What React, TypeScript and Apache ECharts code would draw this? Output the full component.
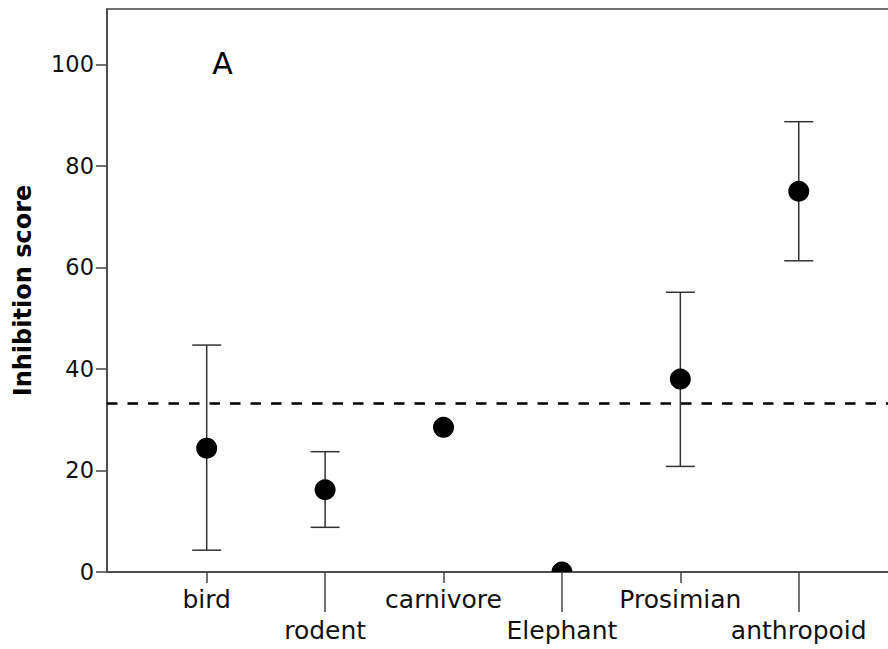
import React, { useEffect, useRef } from "react";
import * as echarts from "echarts";

const categories = ["bird", "rodent", "carnivore", "Elephant", "Prosimian", "anthropoid"];
const means = [24.4, 16.2, 28.5, 0, 38.0, 75.0];
const lower: (number | null)[] = [4.3, 8.8, null, null, 20.8, 61.3];
const upper: (number | null)[] = [44.7, 23.7, null, null, 55.1, 88.7];
const chanceLevel = 33.3;
const yTicks = [0, 20, 40, 60, 80, 100];
const panelLabel = "A";

const FONT = "DejaVu Sans";
const AXIS_COLOR = "#444";

export default function App() {
  const ref = useRef<HTMLDivElement>(null);
  useEffect(() => {
    document.body.style.margin = "0";
    if (!ref.current) return;
    const chart = echarts.init(ref.current, null, { renderer: "svg" });
    const positions = categories.map((_, i) => i + 1);
    const data = categories.map((c, i) => [positions[i], means[i], lower[i] ?? NaN, upper[i] ?? NaN]);
    const oddPos = positions.filter((_, i) => i % 2 === 0);
    const evenPos = positions.filter((_, i) => i % 2 === 1);
    const labelFmt = (v: number) => categories[Math.round(v) - 1] ?? "";
    const baseX = {
      type: "value",
      min: 0.158,
      max: 6.796,
      position: "bottom",
      splitLine: { show: false },
    };
    const option: any = {
      animation: false,
      backgroundColor: "#fff",
      textStyle: { fontFamily: FONT },
      grid: {
        left: 107,
        right: -5,
        top: 9,
        bottom: 77,
        show: true,
        borderColor: AXIS_COLOR,
        borderWidth: 1.5,
        containLabel: false,
        outerBoundsMode: "none",
      },
      graphic: [
        {
          type: "text",
          x: 222.5,
          y: 63,
          style: {
            text: panelLabel,
            fontFamily: FONT,
            fontSize: 30,
            fill: "#000",
            align: "center",
            verticalAlign: "middle",
          },
        },
      ],
      xAxis: [
        {
          ...baseX,
          axisLine: { show: true, lineStyle: { color: AXIS_COLOR, width: 1.5 } },
          axisTick: { show: true, customValues: oddPos, length: 11, lineStyle: { color: AXIS_COLOR, width: 1.5 } },
          axisLabel: {
            customValues: oddPos,
            formatter: labelFmt,
            margin: 15,
            fontSize: 25,
            color: "#111",
            fontFamily: FONT,
          },
        },
        {
          ...baseX,
          axisLine: { show: false },
          axisTick: { show: true, customValues: evenPos, length: 40, lineStyle: { color: AXIS_COLOR, width: 1.5 } },
          axisLabel: {
            customValues: evenPos,
            formatter: labelFmt,
            margin: 46,
            fontSize: 25,
            color: "#111",
            fontFamily: FONT,
          },
        },
      ],
      yAxis: {
        type: "value",
        min: 0,
        max: 110.9,
        interval: 20,
        name: "Inhibition score",
        nameLocation: "middle",
        nameGap: 72,
        nameTextStyle: { fontSize: 24, fontWeight: "bold", color: "#000", fontFamily: FONT },
        axisLine: { show: true, lineStyle: { color: AXIS_COLOR, width: 1.5 } },
        axisTick: { show: true, length: 11, customValues: yTicks, lineStyle: { color: AXIS_COLOR, width: 1.5 } },
        axisLabel: { customValues: yTicks, margin: 13, fontSize: 22.5, color: "#111", fontFamily: FONT },
        splitLine: { show: false },
      },
      series: [
        {
          type: "custom",
          xAxisIndex: 0,
          clip: true,
          data,
          encode: { x: 0, y: 1 },
          renderItem: (params: any, api: any) => {
            const x = api.value(0);
            const m = api.value(1);
            const lo = api.value(2);
            const hi = api.value(3);
            const c = api.coord([x, m]);
            const children: any[] = [];
            const barStyle = { stroke: "#333", lineWidth: 1.5 };
            if (!isNaN(lo) && !isNaN(hi)) {
              const pl = api.coord([x, lo]);
              const ph = api.coord([x, hi]);
              const hw = 14.5;
              children.push({ type: "line", shape: { x1: pl[0], y1: pl[1], x2: ph[0], y2: ph[1] }, style: barStyle });
              children.push({ type: "line", shape: { x1: pl[0] - hw, y1: pl[1], x2: pl[0] + hw, y2: pl[1] }, style: barStyle });
              children.push({ type: "line", shape: { x1: ph[0] - hw, y1: ph[1], x2: ph[0] + hw, y2: ph[1] }, style: barStyle });
            }
            children.push({ type: "circle", shape: { cx: c[0], cy: c[1], r: 10.5 }, style: { fill: "#000" } });
            return { type: "group", children };
          },
          markLine: {
            silent: true,
            symbol: "none",
            label: { show: false },
            lineStyle: { color: "#000", width: 2.5, type: [10.5, 10] },
            data: [{ yAxis: chanceLevel }],
          },
        },
      ],
    };
    chart.setOption(option);
    return () => chart.dispose();
  }, []);
  return <div ref={ref} style={{ width: 888, height: 649 }} />;
}
